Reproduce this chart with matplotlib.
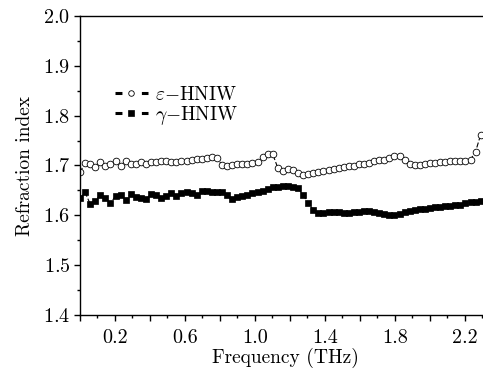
import numpy as np
import matplotlib
matplotlib.use("Agg")
import matplotlib.pyplot as plt
from matplotlib.ticker import MultipleLocator

plt.rcParams["font.family"] = ["cmr10", "DejaVu Serif"]
plt.rcParams["mathtext.fontset"] = "cm"
plt.rcParams["axes.formatter.use_mathtext"] = True
plt.rcParams["lines.scale_dashes"] = False

# frequency grid (THz)
freq = [0.000, 0.029, 0.058, 0.087, 0.116, 0.145, 0.174, 0.203, 0.232, 0.261,
        0.290, 0.319, 0.348, 0.377, 0.406, 0.435, 0.464, 0.493, 0.522, 0.551,
        0.580, 0.609, 0.638, 0.667, 0.696, 0.725, 0.754, 0.783, 0.812, 0.841,
        0.870, 0.899, 0.928, 0.957, 0.986, 1.015, 1.044, 1.073, 1.102, 1.131,
        1.160, 1.189, 1.218, 1.247, 1.276, 1.305, 1.334, 1.363, 1.392, 1.421,
        1.450, 1.479, 1.508, 1.537, 1.566, 1.595, 1.624, 1.653, 1.682, 1.711,
        1.740, 1.769, 1.798, 1.827, 1.856, 1.885, 1.914, 1.943, 1.972, 2.001,
        2.030, 2.059, 2.088, 2.117, 2.146, 2.175, 2.204, 2.233, 2.262, 2.291]

# epsilon-HNIW refraction index
eps_n = [1.686, 1.706, 1.703, 1.696, 1.708, 1.699, 1.703, 1.709, 1.700, 1.709,
         1.703, 1.703, 1.708, 1.703, 1.708, 1.708, 1.709, 1.710, 1.708, 1.708,
         1.709, 1.709, 1.711, 1.713, 1.714, 1.716, 1.718, 1.716, 1.701, 1.700,
         1.702, 1.703, 1.704, 1.704, 1.706, 1.708, 1.718, 1.724, 1.723, 1.695,
         1.688, 1.692, 1.691, 1.684, 1.681, 1.683, 1.685, 1.686, 1.689, 1.690,
         1.692, 1.695, 1.696, 1.698, 1.700, 1.703, 1.704, 1.706, 1.709, 1.711,
         1.712, 1.715, 1.719, 1.719, 1.712, 1.704, 1.701, 1.702, 1.704, 1.705,
         1.706, 1.707, 1.708, 1.709, 1.709, 1.709, 1.710, 1.712, 1.728, 1.762]

# gamma-HNIW refraction index
gam_n = [1.634, 1.646, 1.623, 1.629, 1.641, 1.634, 1.624, 1.639, 1.641, 1.631,
         1.643, 1.637, 1.634, 1.632, 1.643, 1.641, 1.634, 1.639, 1.644, 1.639,
         1.644, 1.647, 1.644, 1.641, 1.649, 1.649, 1.647, 1.647, 1.646, 1.641,
         1.633, 1.636, 1.639, 1.641, 1.644, 1.647, 1.649, 1.652, 1.656, 1.657,
         1.659, 1.659, 1.657, 1.654, 1.641, 1.624, 1.611, 1.605, 1.605, 1.606,
         1.606, 1.606, 1.605, 1.605, 1.606, 1.607, 1.609, 1.608, 1.607, 1.605,
         1.603, 1.601, 1.601, 1.603, 1.606, 1.609, 1.611, 1.612, 1.613, 1.615,
         1.616, 1.617, 1.618, 1.619, 1.620, 1.621, 1.625, 1.626, 1.627, 1.629]

x_ticks = [0.0, 0.2, 0.4, 0.6, 0.8, 1.0, 1.2, 1.4, 1.6, 1.8, 2.0, 2.2]
x_labels = ["", "0.2", "", "0.6", "", "1.0", "", "1.4", "", "1.8", "", "2.2"]

fig = plt.figure(figsize=(4.83, 3.71), dpi=100)
ax = fig.add_axes([80 / 483, 1 - 315 / 371, 411 / 483, 299 / 371])

ax.plot(freq, eps_n, "--", color="black", lw=0.8, marker="o", ms=4.8,
        mfc="white", mec="black", mew=0.6, label=r"$\varepsilon{-}$HNIW")
ax.plot(freq, gam_n, "--", color="black", lw=0.8, marker="s", ms=4.6,
        mfc="black", mec="black", mew=0.5, label=r"$\gamma{-}$HNIW")

ax.set_xlim(0, 2.35)
ax.set_ylim(1.4, 2.0)
ax.set_xticks(x_ticks)
ax.set_xticklabels(x_labels)
ax.xaxis.set_minor_locator(MultipleLocator(0.1))
ax.yaxis.set_major_locator(MultipleLocator(0.1))
ax.yaxis.set_minor_locator(MultipleLocator(0.05))
ax.tick_params(which="major", direction="out", length=4, width=1.0, labelsize=14.5)
ax.tick_params(axis="x", which="major", pad=6)
ax.tick_params(axis="y", which="major", pad=3)
ax.tick_params(which="minor", direction="out", length=2.5, width=1.0)
for s in ax.spines.values():
    s.set_linewidth(1.0)

ax.set_xlabel("Frequency (THz)", fontsize=14, labelpad=1)
ax.set_ylabel("Refraction index", fontsize=14, labelpad=6)

leg = ax.legend(loc="upper left", bbox_to_anchor=(0.085, 0.765), frameon=False,
                fontsize=14, handlelength=1.7, handletextpad=0.35, labelspacing=0.0,
                borderaxespad=0, borderpad=0)
for h in leg.legend_handles:
    h.set_linewidth(2.2)
    h.set_linestyle((0, (5.0, 14.0)))
    h.set_markersize(4.0)

fig.savefig("out.png", dpi=100)
